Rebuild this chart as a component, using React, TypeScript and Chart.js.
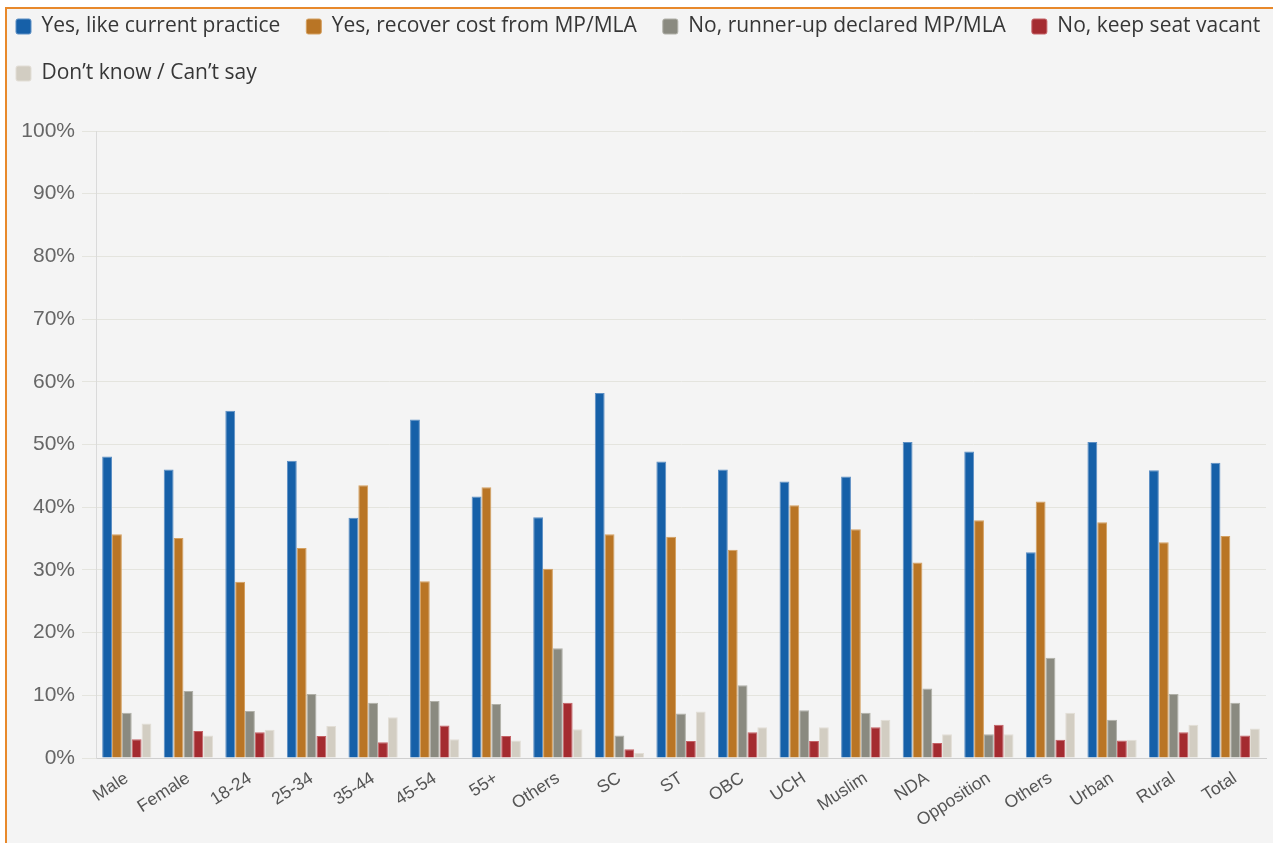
import React, { useEffect, useRef } from "react";
import { Chart, registerables } from "chart.js";

Chart.register(...registerables);

const categories = [
  "Male", "Female", "18-24", "25-34", "35-44", "45-54", "55+", "Others", "SC", "ST",
  "OBC", "UCH", "Muslim", "NDA", "Opposition", "Others", "Urban", "Rural", "Total",
];

const seriesNames = [
  "Yes, like current practice",
  "Yes, recover cost from MP/MLA",
  "No, runner-up declared MP/MLA",
  "No, keep seat vacant",
  "Don\u2019t know / Can\u2019t say",
];

const yesCurrent = [48.1, 46.0, 55.4, 47.4, 38.3, 54.0, 41.7, 38.4, 58.2, 47.3, 46.0, 44.1, 44.9, 50.4, 48.9, 32.8, 50.4, 45.9, 47.1];
const yesRecover = [35.7, 35.1, 28.1, 33.5, 43.5, 28.2, 43.2, 30.2, 35.7, 35.3, 33.2, 40.3, 36.5, 31.2, 37.9, 40.9, 37.6, 34.4, 35.4];
const noRunnerUp = [7.2, 10.7, 7.5, 10.2, 8.8, 9.1, 8.6, 17.5, 3.6, 7.1, 11.6, 7.6, 7.2, 11.1, 3.8, 16.0, 6.1, 10.2, 8.8];
const noVacant = [3.0, 4.3, 4.1, 3.5, 2.5, 5.2, 3.5, 8.8, 1.4, 2.7, 4.1, 2.7, 4.9, 2.4, 5.3, 2.9, 2.8, 4.1, 3.6];
const dontKnow = [5.5, 3.6, 4.5, 5.1, 6.5, 3.0, 2.8, 4.6, 0.8, 7.4, 4.9, 4.9, 6.1, 3.8, 3.8, 7.2, 2.9, 5.3, 4.7];

const yTicks = [0, 10, 20, 30, 40, 50, 60, 70, 80, 90, 100];

const fills = ["#1660a8", "#b97525", "#8a8a80", "#a42b30", "#d2cdc2"];
const edges = ["#5d8fc4", "#d4a060", "#b0b0a8", "#c46266", "#e2ded6"];

export default function App() {
  const ref = useRef<HTMLCanvasElement | null>(null);

  useEffect(() => {
    if (!ref.current) return;
    const values = [yesCurrent, yesRecover, noRunnerUp, noVacant, dontKnow];
    const extraLegendWidth = 30;
    const legendSpacer = {
      id: "legendSpacer",
      beforeInit(chart: any) {
        const legend = chart.legend;
        if (!legend) return;
        const orig = legend.fit;
        legend.fit = function () {
          this.maxWidth += extraLegendWidth;
          orig.call(this);
          this.height += 37;
        };
      },
      afterLayout(chart: any) {
        const legend = chart.legend;
        if (!legend) return;
        legend.right += extraLegendWidth;
        legend.width += extraLegendWidth;
      },
    };
    const chart = new Chart(ref.current, {
      type: "bar",
      data: {
        labels: categories,
        datasets: values.map((v, i) => ({
          label: seriesNames[i],
          data: v,
          backgroundColor: fills[i],
          borderColor: edges[i],
          borderWidth: 1,
          categoryPercentage: 0.8,
          barPercentage: 1.0,
        })),
      },
      options: {
        responsive: false,
        animation: false,
        layout: { padding: { left: -10, top: -10, right: 7, bottom: 0 } },
        plugins: {
          legend: {
            display: true,
            position: "top",
            align: "start",
            labels: {
              font: { family: "'Open Sans', sans-serif", size: 21 },
              color: "#363636",
              boxWidth: 15,
              boxHeight: 15,
              padding: 26,
              useBorderRadius: true,
              borderRadius: 2,
            },
          },
          tooltip: { enabled: false },
        },
        scales: {
          x: {
            grid: { display: false },
            border: { display: true, color: "#cfcfcf", width: 1 },
            ticks: {
              autoSkip: false,
              minRotation: 33,
              maxRotation: 33,
              padding: 2,
              color: "#555",
              font: { family: "'Liberation Sans', Arial, sans-serif", size: 17.5 },
            },
            afterFit(scale: any) {
              scale.height = 85;
            },
          },
          y: {
            min: 0,
            max: 100,
            afterBuildTicks(scale: any) {
              scale.ticks = yTicks.map((v) => ({ value: v }));
            },
            grid: { color: "#e4e4de", tickLength: 14, drawTicks: true },
            border: { display: true, color: "#dadada", width: 1 },
            ticks: {
              padding: 7,
              color: "#666",
              font: { family: "'Liberation Sans', Arial, sans-serif", size: 21 },
              callback: (v: any) => `${v}%`,
            },
            afterFit(scale: any) {
              scale.width = 106;
            },
          },
        },
      },
      plugins: [legendSpacer],
    });
    return () => chart.destroy();
  }, []);

  return (
    <div style={{ position: "fixed", left: 0, top: 0, width: 1273, height: 843, background: "#fff", overflow: "hidden" }}>
      <div
        style={{
          position: "absolute",
          left: 5,
          top: 7,
          right: 0,
          bottom: 0,
          borderTop: "2px solid #e8892b",
          borderLeft: "2px solid #e8892b",
          background: "#f4f4f4",
        }}
      />
      <canvas ref={ref} width={1273} height={843} style={{ position: "absolute", left: 0, top: 0, width: 1273, height: 843 }} />
    </div>
  );
}
